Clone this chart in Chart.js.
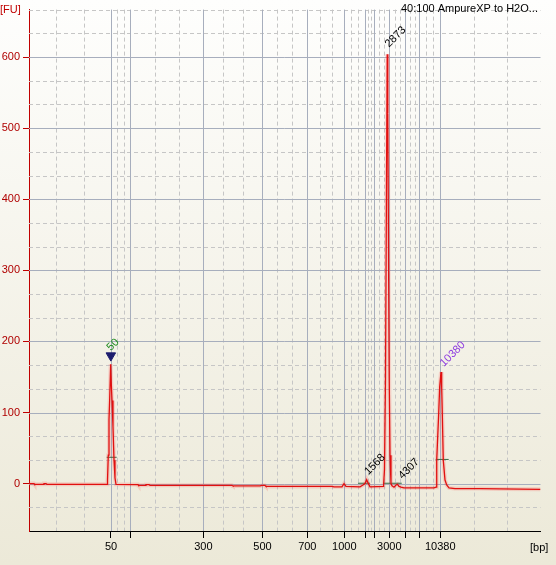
<!DOCTYPE html>
<html>
<head>
<meta charset="utf-8">
<script src="https://cdn.jsdelivr.net/npm/chart.js@4.4.0/dist/chart.umd.min.js"></script>
<style>
  html, body { margin: 0; padding: 0; background: #ece9d8; }
  canvas { display: block; }
</style>
</head>
<body>
<canvas id="c" width="556" height="565"></canvas>
<script>
// Electropherogram trace: migration position (0..100 across the run) vs fluorescence [FU]
const traceX = [0, 0.98, 1.08, 2.74, 2.93, 3.32, 3.52, 15.25, 15.35, 15.50, 15.64, 15.78, 15.97, 16.09, 16.23, 16.42,
  16.62, 16.81, 17.01, 21.31, 21.41, 22.68, 22.87, 23.46, 23.66, 39.69, 39.88, 45.16, 45.55, 46.14, 46.33, 59.24,
  59.63, 61.19, 61.58, 61.97, 64.71, 65.30, 65.69, 66.02, 66.28, 66.67, 69.31, 69.50, 69.70, 69.89, 70.03, 70.15,
  70.27, 70.42, 70.58, 70.77, 70.97, 71.36, 71.75, 72.04, 72.34, 72.73, 73.31, 79.18, 79.57, 79.71, 80.10, 80.29,
  80.55, 80.68, 80.80, 80.99, 81.33, 81.66, 82.11, 83.28, 88.17, 92.08, 100];
const traceY = [0, 0, -1, -1, 0, 0, -1, -1, 5, 40, 90, 120, 168, 140, 117, 80,
  33, 8, -1, -1.4, -2.4, -2.4, -1.5, -1.5, -2.4, -2.4, -3.3, -3.3, -2.5, -2.5, -4, -4,
  -4.5, -4.5, 0, -4, -4.5, -2, 0, 5.5, 1, -4.5, -4, 20, 150, 420, 604, 520,
  350, 150, 40, 0, -3, -5, -2, -1, -4, -5, -6, -6, -5, 33, 99, 136,
  157, 136, 99, 33, 5, -2, -6, -7, -7, -7.5, -8];

// bp axis: ladder marks (position on the run) and their labels
const markPos = [16.03, 19.80, 34.08, 45.65, 54.41, 61.64, 65.75, 67.51, 70.44, 73.57, 76.31, 80.41];
const markLabels = ["50", "", "300", "500", "700", "1000", "", "", "3000", "", "", "10380"];
const fuTicks = [0, 100, 200, 300, 400, 500, 600];

// called peaks: label text, where the label starts, colour
const peakNames = ["50", "1568", "2873", "4307", "10380"];
const peakLabelX = [16.0, 66.35, 70.38, 73.0, 81.13];
const peakLabelY = [186, 11.7, 613, 5.6, 164];
const peakColors = ["#1d8a1d", "#000000", "#000000", "#000000", "#8d3be0"];

// peak window bars
const winStart = [15.19, 64.32, 69.27, 79.51];
const winEnd = [17.14, 66.67, 72.87, 82.05];
const winLevel = [37, 0.5, 0.5, 34];

// marker on the lower ladder peak
const markerX = [16.0];
const markerY = [180];

const X_MIN = 0, X_MAX = 100, Y_MIN = -66.667, Y_MAX = 666.667;
const FONT = "11px 'Liberation Sans', Arial, sans-serif";

const tracePts = traceX.map((x, i) => ({ x: x, y: traceY[i] }));

const datasets = [
  { data: tracePts, borderColor: "rgba(255,40,40,0.16)", borderWidth: 4, pointRadius: 0, tension: 0 },
  { data: tracePts, borderColor: "#dc0c0c", borderWidth: 1.3, pointRadius: 0, tension: 0 }
];
winStart.forEach((s, i) => {
  datasets.push({ data: [{ x: s, y: winLevel[i] }, { x: winEnd[i], y: winLevel[i] }],
    borderColor: "#2f6b45", borderWidth: 1, pointRadius: 0 });
});
datasets.push({ data: markerX.map((x, i) => ({ x: x, y: markerY[i] })), showLine: false,
  pointStyle: "triangle", rotation: 180, pointRadius: 5.5,
  pointBackgroundColor: "#1c1c6e", pointBorderColor: "#1c1c6e" });

// background: soft vertical gradient like the original window
const bgPlugin = {
  id: "bg",
  beforeDraw(chart) {
    const ctx = chart.ctx;
    const g = ctx.createLinearGradient(0, 0, 0, chart.height);
    g.addColorStop(0, "#fefefd");
    g.addColorStop(1, "#ece9d8");
    ctx.save();
    ctx.fillStyle = g;
    ctx.fillRect(0, 0, chart.width, chart.height);
    ctx.restore();
  }
};

// grid: solid at hundreds / ladder marks, dashed at the thirds in between
const gridPlugin = {
  id: "grid",
  beforeDatasetsDraw(chart) {
    const ctx = chart.ctx, a = chart.chartArea;
    const xs = chart.scales.x, ys = chart.scales.y;
    const dashed = [], solid = [];
    for (let k = 1; k <= 22; k++) {
      const v = Y_MIN + k * (100 / 3);
      const p = Math.round(ys.getPixelForValue(v)) + 0.5;
      if (k % 3 === 2) solid.push(["h", p]); else dashed.push(["h", p]);
    }
    const bounds = [X_MIN].concat(markPos, [X_MAX]);
    for (let i = 0; i < bounds.length - 1; i++) {
      for (let t = 1; t <= 2; t++) {
        const v = bounds[i] + (bounds[i + 1] - bounds[i]) * t / 3;
        dashed.push(["v", Math.round(xs.getPixelForValue(v)) + 0.5]);
      }
    }
    markPos.forEach(v => solid.push(["v", Math.round(xs.getPixelForValue(v)) + 0.5]));
    ctx.save();
    ctx.lineWidth = 1;
    const stroke = (list) => list.forEach(([d, p]) => {
      ctx.beginPath();
      if (d === "h") { ctx.moveTo(a.left, p); ctx.lineTo(a.right, p); }
      else { ctx.moveTo(p, a.top); ctx.lineTo(p, a.bottom); }
      ctx.stroke();
    });
    ctx.strokeStyle = "#c6c6c6";
    ctx.setLineDash([4, 3]);
    stroke(dashed);
    ctx.strokeStyle = "#a7aebd";
    ctx.setLineDash([]);
    stroke(solid);
    ctx.restore();
  }
};

// texts: units, sample name, rotated peak labels
const textPlugin = {
  id: "texts",
  afterDatasetsDraw(chart) {
    const ctx = chart.ctx;
    const xs = chart.scales.x, ys = chart.scales.y;
    ctx.save();
    ctx.font = FONT;
    ctx.textBaseline = "alphabetic";
    ctx.textAlign = "left";
    ctx.fillStyle = "#c00000";
    ctx.fillText("[FU]", 0, 13);
    ctx.fillStyle = "#000000";
    ctx.fillText("[bp]", 530, 551);
    ctx.fillText("40:100 AmpureXP to H2O...", 401, 12);
    peakNames.forEach((name, i) => {
      ctx.save();
      ctx.translate(xs.getPixelForValue(peakLabelX[i]), ys.getPixelForValue(peakLabelY[i]));
      ctx.rotate(-Math.PI / 4);
      ctx.fillStyle = peakColors[i];
      ctx.fillText(name, 0, 0);
      ctx.restore();
    });
    ctx.restore();
  }
};

new Chart(document.getElementById("c"), {
  type: "line",
  data: { datasets: datasets },
  options: {
    responsive: false,
    animation: false,
    layout: { padding: { left: 0, top: 9, right: 15.5, bottom: 0 } },
    plugins: { legend: { display: false }, tooltip: { enabled: false } },
    scales: {
      x: {
        type: "linear", min: X_MIN, max: X_MAX,
        afterFit: s => { s.height = 34; },
        afterBuildTicks: s => { s.ticks = markPos.map(v => ({ value: v })); },
        grid: { drawOnChartArea: false, drawTicks: true, tickLength: 7, tickColor: "#000000" },
        border: { display: true, color: "#000000", width: 1 },
        ticks: {
          autoSkip: false, maxRotation: 0, padding: 2, color: "#000000",
          font: { family: "'Liberation Sans', Arial, sans-serif", size: 11 },
          callback: (v, i) => markLabels[i]
        }
      },
      y: {
        type: "linear", min: Y_MIN, max: Y_MAX,
        afterFit: s => { s.width = 29; },
        afterBuildTicks: s => { s.ticks = fuTicks.map(v => ({ value: v })); },
        grid: { drawOnChartArea: false, drawTicks: true, tickLength: 6, tickColor: "#c00000" },
        border: { display: true, color: "#c00000", width: 1 },
        ticks: {
          padding: 3, color: "#b00000",
          font: { family: "'Liberation Sans', Arial, sans-serif", size: 11 }
        }
      }
    }
  },
  plugins: [bgPlugin, gridPlugin, textPlugin]
});
</script>
</body>
</html>
